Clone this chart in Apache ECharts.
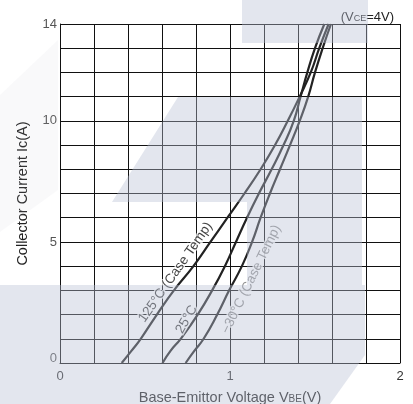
<!DOCTYPE html>
<html>
<head>
<meta charset="utf-8">
<script src="https://cdn.jsdelivr.net/npm/echarts@6/dist/echarts.min.js"></script>
<style>
  html, body { margin: 0; padding: 0; background: #fff; }
  #chart { width: 413px; height: 404px; }
</style>
</head>
<body>
<div id="chart"></div>
<script>
// Ic vs VBE at VCE=4V: [VBE (V), Ic (A)]
var curve125 = [[0.363, 0], [0.42, 0.5], [0.475, 1], [0.57, 2], [0.67, 3], [0.785, 4], [0.885, 5],
  [0.985, 6], [1.085, 7], [1.18, 8], [1.265, 9], [1.34, 10], [1.41, 11], [1.475, 12], [1.525, 13], [1.58, 14]];
var curve25 = [[0.603, 0], [0.65, 0.5], [0.71, 1], [0.81, 2], [0.895, 3], [0.97, 4], [1.035, 5],
  [1.10, 6], [1.17, 7], [1.245, 8], [1.315, 9], [1.375, 10], [1.415, 11], [1.455, 12], [1.50, 13], [1.555, 14]];
var curveM30 = [[0.739, 0], [0.79, 0.5], [0.845, 1], [0.925, 2], [0.995, 3], [1.07, 4], [1.13, 5],
  [1.18, 6], [1.235, 7], [1.294, 8], [1.353, 9], [1.41, 10], [1.46, 11], [1.50, 12], [1.545, 13], [1.594, 14]];

var xTickLabels = [0, 1, 2];
var yTickLabels = [0, 5, 10, 14];

// curve captions: [VBE, Ic, text, rotation, colour]
var captions = [
  [0.68, 3.75, "125°C (Case Temp)", 55, "#111"],
  [0.745, 1.8, "25°C", 60, "#111"],
  [1.125, 3.45, "\u221230°C (Case Temp)", 64, "#777"]
];

var font = "'Liberation Sans', Arial, sans-serif";

var chart = echarts.init(document.getElementById("chart"));

function isTick(list, v) {
  for (var i = 0; i < list.length; i++) {
    if (Math.abs(list[i] - v) < 1e-6) return true;
  }
  return false;
}

// pale overlay that sits over parts of the picture
var veil = "rgba(185,192,212,0.4)";

var option = {
  animation: false,
  textStyle: { fontFamily: font },
  title: {
    text: "(V{s|CE}=4V)",
    right: 14,
    top: 6,
    textStyle: {
      fontSize: 13,
      fontWeight: "normal",
      color: "#222",
      fontFamily: font,
      rich: { s: { fontSize: 9, color: "#222", fontFamily: font, padding: [3, 0, 0, 0] } }
    }
  },
  grid: { left: 60, right: 13, top: 24, bottom: 41, outerBoundsMode: "none", containLabel: false },
  xAxis: {
    type: "value",
    min: 0,
    max: 2,
    interval: 0.2,
    name: "Base-Emittor Voltage V{s|BE}(V)",
    nameLocation: "middle",
    nameGap: 27,
    nameTextStyle: {
      fontSize: 14.5,
      color: "#222",
      fontFamily: font,
      rich: { s: { fontSize: 10, color: "#222", fontFamily: font, padding: [3, 0, 0, 0] } }
    },
    axisLine: { show: true, lineStyle: { color: "#111", width: 1 } },
    axisTick: { show: false },
    axisLabel: {
      margin: 7,
      fontSize: 13,
      color: "#333",
      fontFamily: font,
      formatter: function (v) { return isTick(xTickLabels, v) ? String(Math.round(v)) : ""; }
    },
    splitLine: { show: true, lineStyle: { color: "#111", width: 1 } }
  },
  yAxis: {
    type: "value",
    min: 0,
    max: 14,
    interval: 1,
    name: "Collector Current Ic(A)",
    nameLocation: "middle",
    nameGap: 30,
    nameTextStyle: { fontSize: 14.5, color: "#222", fontFamily: font },
    axisLine: { show: true, lineStyle: { color: "#111", width: 1 } },
    axisTick: { show: false },
    axisLabel: {
      margin: 3,
      fontSize: 13,
      color: "#555",
      fontFamily: font,
      formatter: function (v) {
        if (!isTick(yTickLabels, v)) return "";
        return v === 0 ? "{z|0}" : String(v);
      },
      rich: { z: { fontSize: 13, color: "#555", fontFamily: font, padding: [0, 0, 10, 0] } }
    },
    splitLine: { show: true, lineStyle: { color: "#111", width: 1 } }
  },
  series: [
    { name: "125°C", type: "line", data: curve125, smooth: true, showSymbol: false,
      lineStyle: { color: "#222", width: 2.2 }, z: 3 },
    { name: "25°C", type: "line", data: curve25, smooth: true, showSymbol: false,
      lineStyle: { color: "#222", width: 2.2 }, z: 3 },
    { name: "-30°C", type: "line", data: curveM30, smooth: true, showSymbol: false,
      lineStyle: { color: "#222", width: 2.2 }, z: 3 },
    {
      name: "captions",
      type: "scatter",
      symbolSize: 0,
      z: 4,
      data: captions.map(function (c) {
        return {
          value: [c[0], c[1]],
          label: {
            show: true,
            position: "inside",
            formatter: c[2],
            rotate: c[3],
            fontSize: 13.5,
            color: c[4],
            fontFamily: font,
            textBorderColor: "#fff",
            textBorderWidth: 3
          }
        };
      })
    }
  ],
  graphic: [
    { type: "rect", z: 100, silent: true, shape: { x: 242, y: 0, width: 126, height: 43 },
      style: { fill: veil } },
    { type: "polygon", z: 100, silent: true,
      shape: { points: [[178, 97], [362, 97], [362, 285], [247, 285], [247, 202], [112, 202]] },
      style: { fill: veil } },
    { type: "polygon", z: 100, silent: true,
      shape: { points: [[0, 285], [365, 285], [365, 355], [330, 404], [0, 404]] },
      style: { fill: veil } },
    { type: "polygon", z: 100, silent: true,
      shape: { points: [[0, 95], [58, 40], [58, 190], [0, 232]] },
      style: { fill: "rgba(200,200,205,0.1)" } }
  ]
};

chart.setOption(option);
</script>
</body>
</html>
